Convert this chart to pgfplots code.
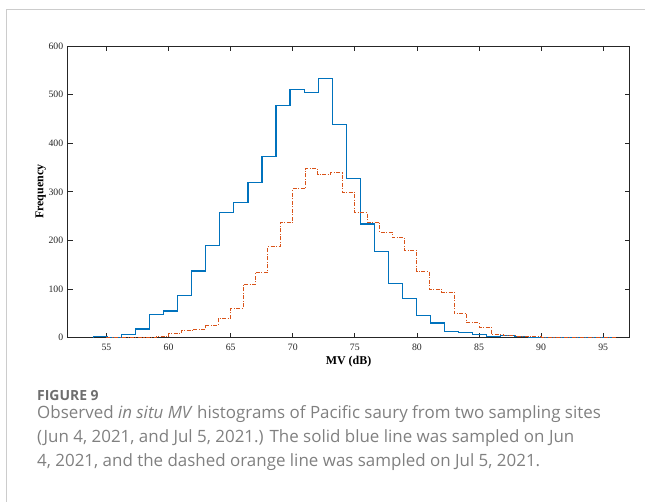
\documentclass[border=0pt]{standalone}
\usepackage{fontspec}
\setmainfont{Liberation Serif}
\newfontfamily\capfont{Open Sans}
\usepackage{pgfplots}
\pgfplotsset{compat=1.18}
\definecolor{mblue}{HTML}{0072BD}
\definecolor{morange}{HTML}{D95319}
\definecolor{axgray}{HTML}{262626}
\definecolor{capgray}{HTML}{808080}
\definecolor{figgray}{HTML}{6E6E6E}
\definecolor{framegray}{HTML}{CCCCCC}
\begin{document}
\begin{tikzpicture}
\path[use as bounding box] (0bp,0bp) rectangle (645bp,502bp);
\draw[framegray, line width=0.9bp] (6.5bp,0bp) -- (6.5bp,493bp) -- (645bp,493bp);
\begin{axis}[
  at={(67.5bp,164.33bp)}, anchor=south west,
  scale only axis, width=562bp, height=291.67bp,
  xmin=51.86, xmax=97.12, ymin=0, ymax=600,
  xtick={55,60,...,95}, ytick={0,100,...,600},
  tick align=inside, major tick length=5bp,
  axis line style={axgray, line width=0.7bp},
  every tick/.style={axgray, line width=0.7bp},
  tick label style={font=\fontsize{9.8}{11}\selectfont, text=axgray},
  /pgf/number format/assume math mode=true,
  /pgf/number format/set thousands separator={},
  xticklabel style={yshift=-2.5bp},
  yticklabel style={xshift=-0.8bp},
  xlabel={\textbf{MV (dB)}},
  ylabel={\textbf{Frequency}},
  label style={font=\fontsize{12}{14}\selectfont, text=black},
  xlabel style={at={(axis description cs:0.5,0)}, anchor=base, yshift=-26.6bp},
  ylabel style={at={(axis description cs:0,0.5)}, anchor=center, rotate=0, yshift=26.8bp},
]
\addplot[const plot, mblue, line width=1.2bp] coordinates {
(53.95,0) (53.95,2) (55.081,0) (56.212,7) (57.343,18) (58.474,47) (59.605,55)
(60.736,86) (61.867,137) (62.998,189) (64.129,257) (65.26,278) (66.391,319)
(67.522,372) (68.653,478) (69.784,511) (70.915,505) (72.046,533) (73.177,439)
(74.308,327) (75.439,234) (76.57,177) (77.701,111) (78.832,80) (79.963,45)
(81.094,30) (82.225,12) (83.356,10) (84.487,7) (85.618,2) (86.749,4) (87.88,2)
(89.011,1) (90.142,0) (91.273,1) (92.404,1) (93.535,0) (94.666,1) (95.797,0)
};
\addplot[const plot, morange, line width=0.9bp, dash pattern=on 4bp off 1.5bp on 1bp off 1.5bp] coordinates {
(55,0) (55,1) (56,1) (57,0) (58,0) (59,2) (60,8) (61,14) (62,17) (63,25) (64,40)
(65,60) (66,110) (67,135) (68,187) (69,236) (70,306) (71,348) (72,335) (73,339)
(74,299) (75,257) (76,237) (77,217) (78,206) (79,179) (80,136) (81,100) (82,93)
(83,49) (84,31) (85,21) (86,7) (87,4) (88,3) (89,2) (90,1) (91,1) (92,1) (93,1)
(94,1) (95,1) (96,0)
};
\end{axis}
\node[anchor=base west, inner sep=0, text=figgray] at (37bp,101.3bp) {\capfont\bfseries\fontsize{14}{17}\selectfont FIGURE 9};
\node[anchor=base west, inner sep=0, text=capgray] at (37bp,83bp) {\capfont\fontsize{17}{20}\selectfont Observed \textit{in situ MV} histograms of Pacific saury from two sampling sites};
\node[anchor=base west, inner sep=0, text=capgray] at (37bp,59.5bp) {\capfont\fontsize{17}{20}\selectfont (Jun 4, 2021, and Jul 5, 2021.) The solid blue line was sampled on Jun};
\node[anchor=base west, inner sep=0, text=capgray] at (37bp,36bp) {\capfont\fontsize{17}{20}\selectfont 4, 2021, and the dashed orange line was sampled on Jul 5, 2021.};
\end{tikzpicture}
\end{document}
